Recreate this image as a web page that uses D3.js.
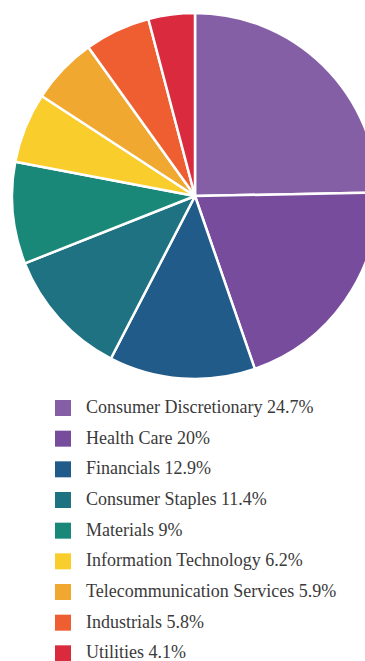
<!DOCTYPE html>
<html>
<head>
<meta charset="utf-8">
<script src="https://d3js.org/d3.v7.min.js"></script>
<style>
  body { margin: 0; background: #fff; overflow: hidden; }
  .lbl { font-family: "Liberation Serif", "DejaVu Serif", Times, serif; }
</style>
</head>
<body>
<div id="chart"></div>
<script>
// sector weights, one pie + a legend under it
const sectors = ["Consumer Discretionary", "Health Care", "Financials", "Consumer Staples", "Materials",
                 "Information Technology", "Telecommunication Services", "Industrials", "Utilities"];
const weights = [24.7, 20, 12.9, 11.4, 9, 6.2, 5.9, 5.8, 4.1];
const colours = ["#855fa6", "#774c9c", "#205b8a", "#1e7282", "#198878",
                 "#f9cd2b", "#f0a830", "#ef5e31", "#d92b3d"];

const width = 365, height = 661;
const cx = 195, cy = 196, radius = 183;

const svg = d3.select("#chart")
  .append("svg")
    .attr("width", width)
    .attr("height", height);

const pie = d3.pie()
  .value(d => d)
  .sort(null);

const arc = d3.arc()
  .innerRadius(0)
  .outerRadius(radius);

const g = svg.append("g")
  .attr("transform", "translate(" + cx + "," + cy + ")");

g.selectAll("path")
  .data(pie(weights))
  .enter()
  .append("path")
    .attr("d", arc)
    .attr("fill", (d, i) => colours[i])
    .attr("stroke", "white")
    .style("stroke-width", "2.5px")
    .style("stroke-linejoin", "round");

// legend
const y = d3.scaleBand()
  .domain(sectors)
  .range([400, 676])
  .paddingInner(0);

const rows = svg.selectAll("g.row")
  .data(sectors)
  .enter()
  .append("g")
    .attr("class", "row")
    .attr("transform", d => "translate(0," + y(d) + ")");

rows.append("rect")
  .attr("x", 55)
  .attr("y", 0)
  .attr("width", 16)
  .attr("height", 16)
  .attr("fill", (d, i) => colours[i]);

rows.append("text")
  .attr("class", "lbl")
  .attr("x", 86)
  .attr("y", 13)
  .attr("font-size", 18)
  .attr("fill", "#3a3a3a")
  .text((d, i) => d + " " + weights[i] + "%");
</script>
</body>
</html>
